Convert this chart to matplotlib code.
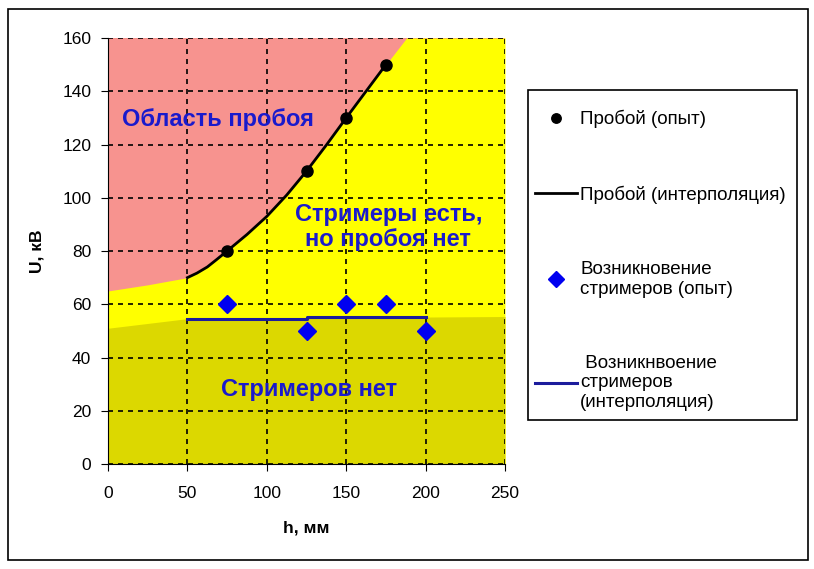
import matplotlib.pyplot as plt
from matplotlib.patches import Rectangle

plt.rcParams['font.family'] = ['Liberation Sans', 'DejaVu Sans']

# experimental points
h_break = [75, 125, 150, 175]
u_break = [80, 110, 130, 150]
h_streamer = [75, 125, 150, 175, 200]
u_streamer = [60, 50, 60, 60, 50]

# interpolation curves
h_break_fit = [50, 56, 62.5, 68, 75, 87.5, 100, 112.5, 125, 137.5, 150, 162.5, 175]
u_break_fit = [70, 71.7, 74, 76.6, 80, 86.2, 93, 101, 110, 119.8, 130, 140, 150]
h_str_fit = [50, 125, 125, 200]
u_str_fit = [54.6, 54.6, 55.4, 55.4]

# region boundaries
h_red = [0, 25, 50] + h_break_fit[1:] + [188, 250]
u_red = [65, 67.3, 70] + u_break_fit[1:] + [160, 160]
h_olive = [0, 50, 125, 200, 250]
u_olive = [51, 54.6, 55, 55.2, 55.4]

fig = plt.figure(figsize=(8.14, 5.69), dpi=100)
ax = fig.add_axes([0.1327, 0.1845, 0.4877, 0.7487])

ax.set_facecolor('#f7938f')
ax.fill_between(h_red, 0, u_red, color='#ffff00', lw=0, zorder=1)
ax.fill_between(h_olive, 0, u_olive, color='#dcd800', lw=0, zorder=1.1)

ax.plot(h_break_fit, u_break_fit, color='black', lw=2, zorder=3,
        label='Пробой (интерполяция)')
ax.plot(h_break, u_break, 'o', color='black', ms=8, zorder=4,
        label='Пробой (опыт)')
ax.plot(h_str_fit, u_str_fit, color='#1c1c9c', lw=2.2, zorder=3,
        label=' Возникнвоение\nстримеров\n(интерполяция)')
ax.plot(h_streamer, u_streamer, 'D', color='#0000f0', ms=9, zorder=4,
        label='Возникновение\nстримеров (опыт)')

ax.set_xlim(0, 250)
ax.set_ylim(0, 160)
ax.set_xticks(range(0, 251, 50))
ax.set_yticks(range(0, 161, 20))
ax.tick_params(direction='out', length=5, labelsize=12.5)
ax.tick_params(axis='x', pad=11)
ax.tick_params(axis='y', pad=7)
ax.set_axisbelow(False)
ax.grid(True, color='black', linestyle=(0, (3, 3)), lw=1.2)
for s in ['top', 'right']:
    ax.spines[s].set_visible(False)

ax.set_xlabel('h, мм', fontsize=12.5, fontweight='bold', labelpad=14)
ax.set_ylabel('U, кВ', fontsize=12.5, fontweight='bold', labelpad=13)

tc = '#1a1acc'
ax.text(8.5, 129.5, 'Область пробоя', color=tc, fontsize=17, fontweight='bold',
        va='center', ha='left', zorder=5)
ax.text(176.5, 89, 'Стримеры есть,\nно пробоя нет', color=tc, fontsize=17,
        fontweight='bold', va='center', ha='center', linespacing=1.15, zorder=5)
ax.text(126.5, 28, 'Стримеров нет', color=tc, fontsize=17, fontweight='bold',
        va='center', ha='center', zorder=5)

handles, labels = ax.get_legend_handles_labels()
order = [1, 0, 3, 2]
leg = fig.legend([handles[i] for i in order], [labels[i] for i in order],
                 loc='upper left', bbox_to_anchor=(535 / 814, 1 - 110 / 569),
                 frameon=False, fontsize=13.5, labelspacing=3.05,
                 handlelength=2.25, handletextpad=0.15, borderpad=0,
                 borderaxespad=0, markerscale=0.85)

# legend frame and outer chart border
fig.patches.append(Rectangle((528 / 814, 1 - 420 / 569), 269 / 814, 330 / 569,
                             transform=fig.transFigure, fill=False,
                             edgecolor='black', lw=1.2))
fig.patches.append(Rectangle((8 / 814, 9 / 569), 800 / 814, 551 / 569,
                             transform=fig.transFigure, fill=False,
                             edgecolor='black', lw=1.2))

fig.savefig('out.png', dpi=100)
